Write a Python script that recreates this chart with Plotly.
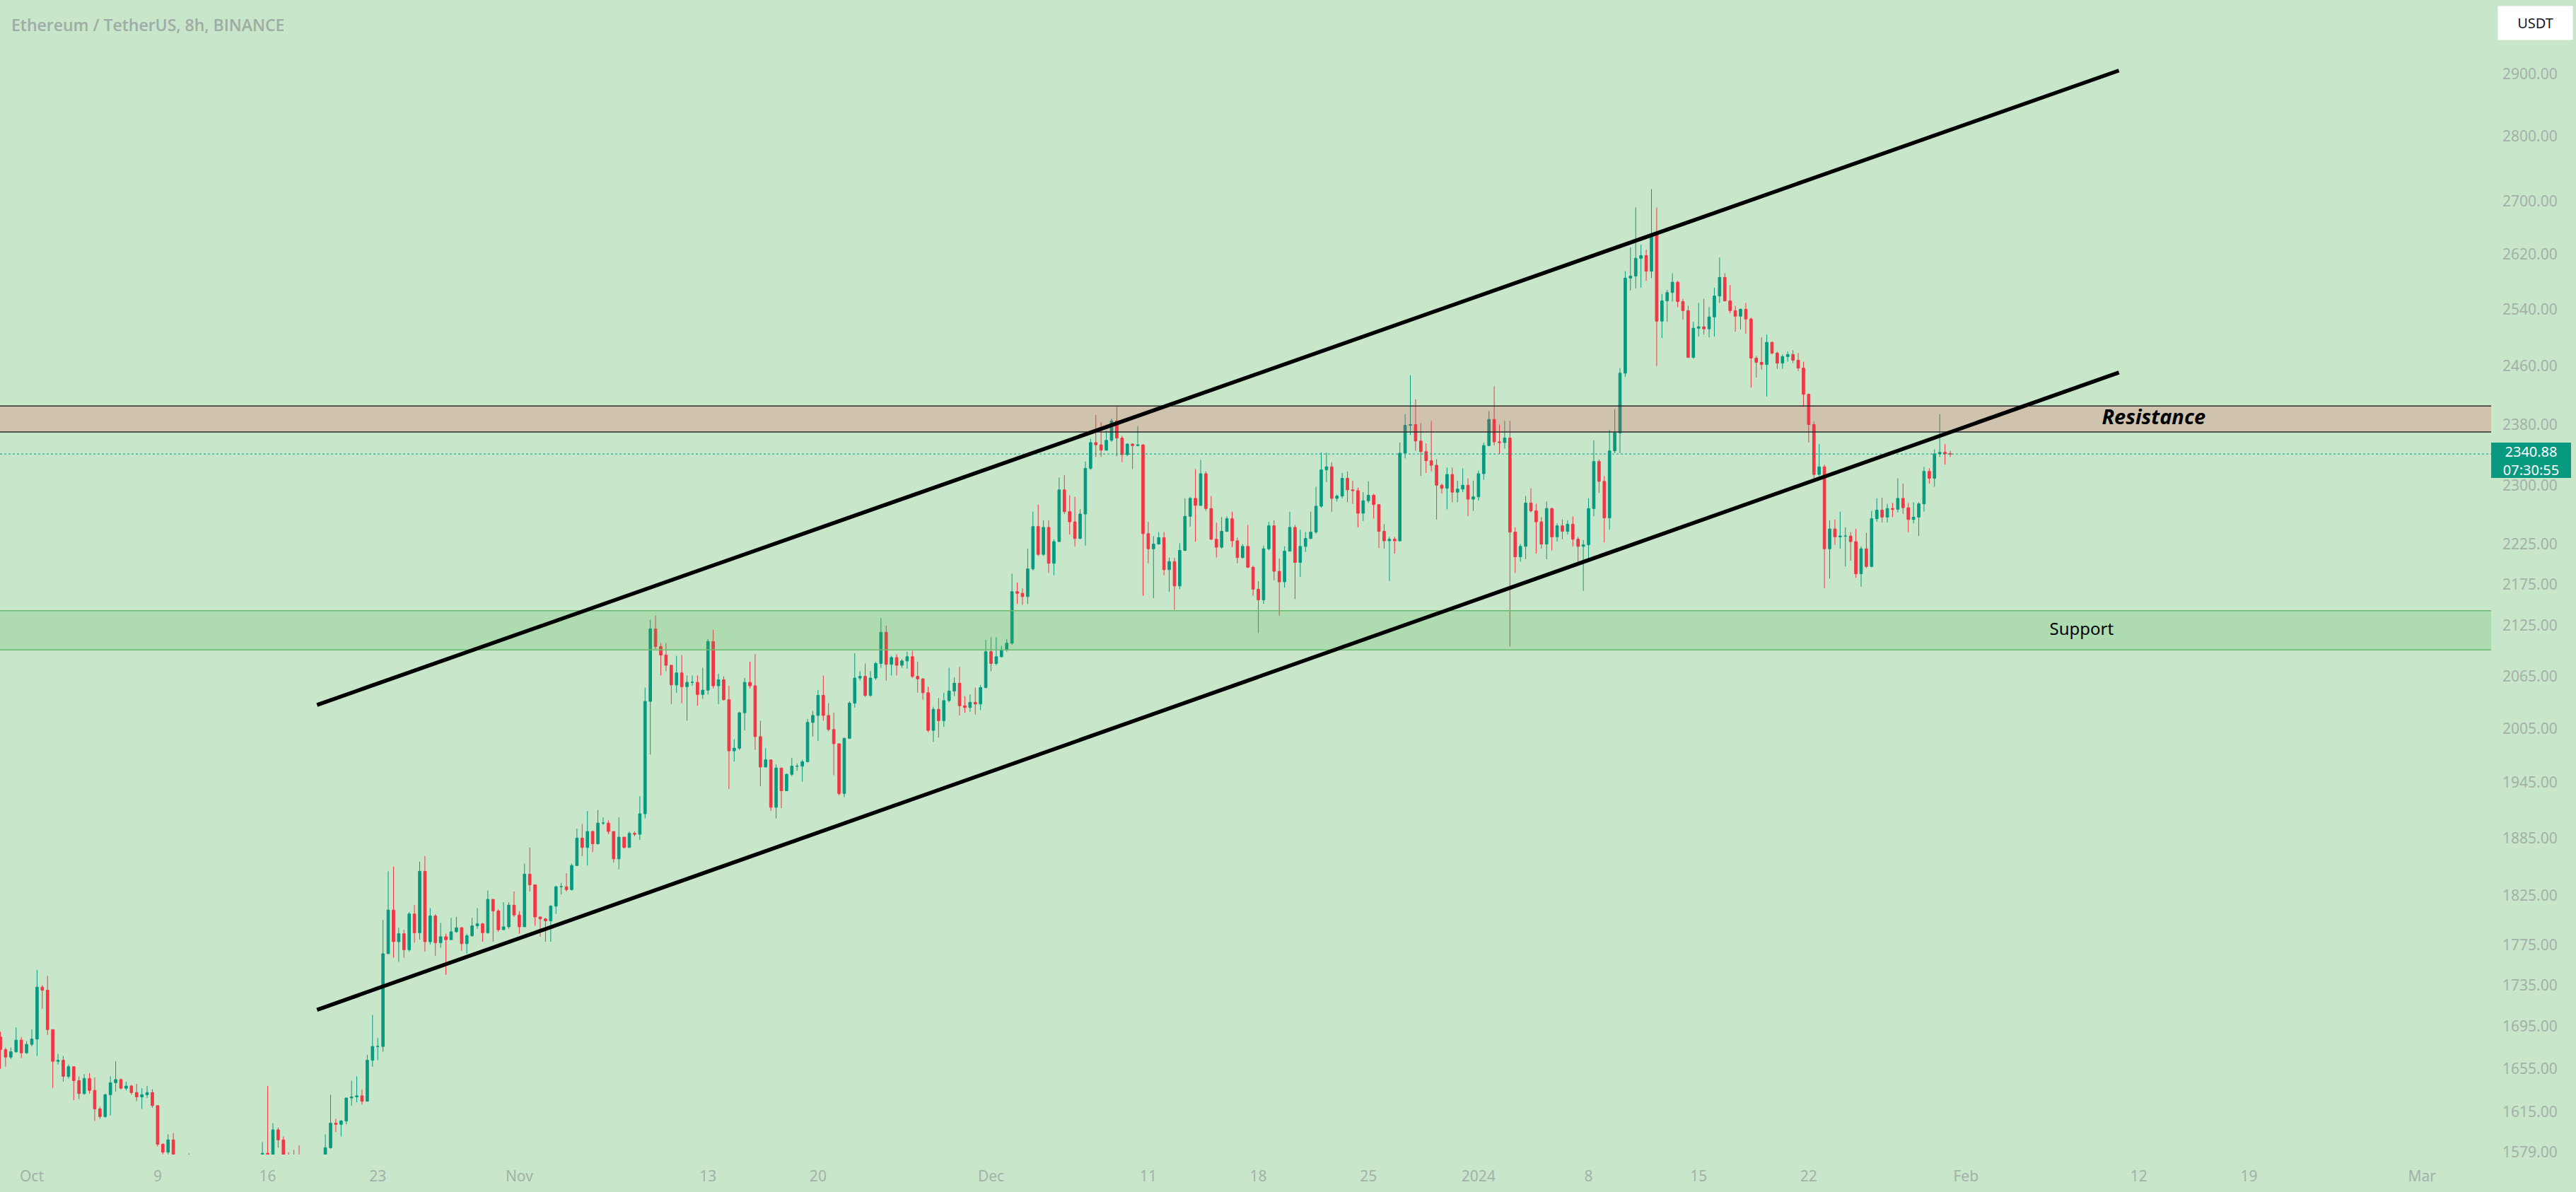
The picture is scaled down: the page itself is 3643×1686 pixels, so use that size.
import math
import pandas as pd
import plotly.graph_objects as go

# ---------------- data (8h candles) ----------------
start_time = "2023-09-29 00:00"
first_open = 1685

close = [
    1673, 1666, 1671, 1682, 1670, 1678, 1683, 1733, 1730, 1692,
    1662, 1663, 1648, 1657, 1644, 1632, 1646, 1635, 1618, 1611,
    1631, 1642, 1645, 1637, 1639, 1633, 1629, 1631, 1633, 1621,
    1586, 1579, 1590, 1575, 1568, 1566, 1565, 1560, 1565, 1555,
    1545, 1540, 1545, 1550, 1548, 1552, 1555, 1553, 1556, 1560,
    1578, 1576, 1599, 1590, 1576, 1572, 1570, 1568, 1565, 1560,
    1562, 1570, 1583, 1605, 1604, 1607, 1628, 1629, 1630, 1625,
    1663, 1676, 1676, 1766, 1810, 1778, 1786, 1770, 1806, 1787,
    1850, 1778, 1804, 1777, 1783, 1780, 1788, 1792, 1776, 1784,
    1794, 1796, 1787, 1821, 1809, 1790, 1793, 1815, 1805, 1793,
    1847, 1836, 1803, 1801, 1799, 1814, 1834, 1834, 1831, 1856,
    1885, 1875, 1892, 1879, 1901, 1901, 1892, 1863, 1886, 1875,
    1890, 1889, 1911, 2036, 2121, 2100, 2090, 2078, 2055, 2069,
    2053, 2058, 2058, 2044, 2049, 2106, 2054, 2061, 2038, 1980,
    1983, 2023, 2058, 2054, 1996, 1962, 1970, 1918, 1961, 1936,
    1954, 1963, 1963, 1968, 2012, 2020, 2043, 2020, 2004, 1988,
    1933, 1994, 2034, 2063, 2065, 2043, 2063, 2080, 2117, 2079,
    2087, 2078, 2083, 2088, 2065, 2062, 2046, 2003, 2027, 2014,
    2037, 2048, 2057, 2031, 2029, 2035, 2033, 2052, 2094, 2080,
    2088, 2096, 2104, 2166, 2164, 2160, 2194, 2247, 2212, 2246,
    2201, 2228, 2294, 2266, 2253, 2232, 2263, 2322, 2356, 2353,
    2346, 2359, 2385, 2362, 2340, 2354, 2352, 2353, 2238, 2219,
    2225, 2233, 2193, 2203, 2173, 2217, 2260, 2283, 2274, 2315,
    2270, 2231, 2221, 2241, 2257, 2229, 2208, 2222, 2196, 2169,
    2156, 2219, 2248, 2191, 2178, 2216, 2246, 2202, 2222, 2232,
    2240, 2273, 2320, 2324, 2283, 2286, 2309, 2294, 2293, 2264,
    2280, 2287, 2275, 2241, 2229, 2231, 2229, 2342, 2379, 2380,
    2358, 2344, 2332, 2326, 2300, 2296, 2314, 2291, 2295, 2300,
    2282, 2285, 2315, 2352, 2387, 2357, 2356, 2362, 2240, 2209,
    2222, 2277, 2267, 2253, 2225, 2270, 2234, 2248, 2241, 2250,
    2231, 2222, 2224, 2270, 2331, 2305, 2258, 2345, 2369, 2450,
    2585, 2588, 2614, 2618, 2595, 2650, 2523, 2552, 2564, 2579,
    2551, 2538, 2472, 2513, 2515, 2512, 2529, 2559, 2586, 2552,
    2538, 2530, 2540, 2526, 2471, 2465, 2462, 2493, 2478, 2464,
    2473, 2476, 2468, 2457, 2421, 2380, 2314, 2324, 2219, 2244,
    2234, 2235, 2235, 2228, 2188, 2219, 2197, 2257, 2268, 2259,
    2270, 2269, 2283, 2271, 2256, 2259, 2276, 2318, 2309, 2341,
    2343, 2341, 2340.88,
]

high = [
    1690, 1675, 1675, 1694, 1685, 1681, 1692, 1750, 1735, 1744,
    1692, 1669, 1667, 1659, 1657, 1648, 1650, 1651, 1647, 1620,
    1632, 1648, 1662, 1646, 1643, 1640, 1641, 1637, 1639, 1636,
    1621, 1587, 1595, 1596, 1576, 1574, 1578, 1570, 1572, 1568,
    1558, 1550, 1555, 1560, 1558, 1560, 1562, 1560, 1562, 1566,
    1588, 1639, 1605, 1601, 1593, 1579, 1581, 1585, 1575, 1572,
    1574, 1576, 1595, 1631, 1609, 1608, 1628, 1644, 1648, 1636,
    1668, 1706, 1684, 1800, 1850, 1855, 1792, 1790, 1808, 1815,
    1860, 1866, 1812, 1806, 1797, 1786, 1802, 1803, 1793, 1786,
    1802, 1812, 1797, 1830, 1821, 1811, 1818, 1818, 1829, 1809,
    1858, 1875, 1836, 1803, 1802, 1815, 1835, 1838, 1848, 1858,
    1895, 1900, 1914, 1893, 1915, 1907, 1904, 1892, 1907, 1886,
    1892, 1892, 1930, 2052, 2132, 2137, 2104, 2104, 2078, 2089,
    2090, 2066, 2066, 2066, 2075, 2109, 2120, 2068, 2065, 2054,
    1993, 2024, 2063, 2082, 2091, 2014, 1983, 1970, 1965, 1961,
    1955, 1972, 1966, 1970, 2016, 2025, 2049, 2066, 2034, 2023,
    1988, 1995, 2036, 2092, 2071, 2080, 2071, 2082, 2134, 2125,
    2089, 2091, 2085, 2094, 2095, 2082, 2063, 2053, 2030, 2040,
    2046, 2075, 2064, 2076, 2042, 2044, 2052, 2055, 2108, 2111,
    2111, 2101, 2109, 2188, 2177, 2170, 2219, 2266, 2275, 2255,
    2255, 2231, 2310, 2313, 2287, 2285, 2269, 2331, 2361, 2393,
    2383, 2372, 2388, 2404, 2365, 2355, 2355, 2378, 2354, 2253,
    2235, 2240, 2240, 2208, 2208, 2226, 2283, 2285, 2321, 2333,
    2318, 2286, 2252, 2259, 2260, 2266, 2233, 2225, 2249, 2198,
    2179, 2223, 2253, 2255, 2207, 2222, 2266, 2249, 2243, 2240,
    2266, 2298, 2343, 2343, 2330, 2288, 2316, 2318, 2306, 2297,
    2291, 2305, 2289, 2274, 2250, 2234, 2234, 2356, 2394, 2447,
    2414, 2382, 2355, 2385, 2334, 2302, 2323, 2323, 2306, 2322,
    2309, 2306, 2319, 2356, 2398, 2432, 2380, 2385, 2385, 2246,
    2225, 2286, 2296, 2276, 2259, 2279, 2271, 2251, 2256, 2255,
    2260, 2234, 2230, 2283, 2359, 2334, 2312, 2373, 2401, 2457,
    2595, 2630, 2690, 2634, 2627, 2718, 2690, 2562, 2568, 2592,
    2581, 2555, 2545, 2522, 2549, 2555, 2543, 2571, 2615, 2592,
    2575, 2545, 2541, 2549, 2528, 2474, 2500, 2504, 2494, 2480,
    2476, 2480, 2482, 2478, 2466, 2422, 2384, 2354, 2327, 2255,
    2256, 2266, 2246, 2240, 2244, 2222, 2239, 2267, 2283, 2284,
    2276, 2277, 2309, 2302, 2277, 2278, 2278, 2324, 2322, 2347,
    2394, 2354, 2345,
]

low = [
    1655, 1657, 1664, 1670, 1665, 1669, 1676, 1667, 1712, 1687,
    1637, 1659, 1643, 1646, 1626, 1627, 1631, 1632, 1607, 1609,
    1610, 1612, 1634, 1636, 1635, 1631, 1625, 1618, 1628, 1619,
    1584, 1577, 1577, 1568, 1560, 1558, 1558, 1550, 1555, 1548,
    1535, 1530, 1535, 1540, 1540, 1545, 1548, 1547, 1550, 1552,
    1556, 1570, 1572, 1583, 1570, 1565, 1562, 1560, 1555, 1553,
    1555, 1558, 1565, 1582, 1597, 1593, 1604, 1621, 1624, 1622,
    1625, 1657, 1663, 1671, 1766, 1762, 1758, 1762, 1768, 1777,
    1780, 1768, 1775, 1764, 1772, 1745, 1780, 1787, 1769, 1766,
    1783, 1791, 1778, 1786, 1778, 1788, 1790, 1791, 1803, 1786,
    1793, 1829, 1794, 1783, 1778, 1778, 1806, 1826, 1829, 1830,
    1856, 1866, 1856, 1870, 1878, 1899, 1889, 1859, 1852, 1874,
    1875, 1887, 1883, 1906, 1976, 2097, 2066, 2071, 2033, 2046,
    2034, 2014, 2054, 2031, 2039, 2044, 2051, 2033, 2037, 1938,
    1968, 1981, 2003, 2051, 1981, 1941, 1962, 1914, 1906, 1917,
    1944, 1952, 1958, 1946, 1967, 1996, 1991, 2014, 2002, 1953,
    1931, 1929, 1994, 2029, 2060, 2041, 2041, 2061, 2075, 2060,
    2066, 2066, 2075, 2074, 2063, 2046, 2038, 2001, 1990, 1995,
    2007, 2035, 2042, 2020, 2023, 2024, 2021, 2026, 2051, 2071,
    2078, 2087, 2094, 2102, 2151, 2150, 2151, 2192, 2210, 2210,
    2189, 2186, 2228, 2263, 2237, 2222, 2231, 2223, 2320, 2337,
    2337, 2345, 2357, 2338, 2330, 2338, 2321, 2351, 2161, 2201,
    2158, 2224, 2186, 2166, 2144, 2169, 2216, 2247, 2228, 2273,
    2267, 2230, 2208, 2219, 2240, 2221, 2201, 2207, 2195, 2161,
    2116, 2151, 2217, 2180, 2137, 2171, 2216, 2157, 2184, 2215,
    2231, 2238, 2271, 2304, 2266, 2279, 2283, 2278, 2276, 2246,
    2254, 2277, 2257, 2220, 2219, 2179, 2213, 2228, 2335, 2366,
    2345, 2312, 2316, 2318, 2256, 2289, 2269, 2278, 2278, 2291,
    2260, 2267, 2280, 2307, 2351, 2352, 2341, 2348, 2100, 2189,
    2203, 2206, 2265, 2213, 2219, 2206, 2217, 2228, 2231, 2237,
    2222, 2203, 2167, 2207, 2260, 2290, 2227, 2243, 2342, 2342,
    2445, 2567, 2570, 2571, 2581, 2585, 2460, 2499, 2522, 2551,
    2543, 2525, 2471, 2470, 2501, 2504, 2500, 2501, 2549, 2551,
    2534, 2508, 2511, 2505, 2430, 2444, 2455, 2418, 2476, 2456,
    2456, 2466, 2464, 2453, 2404, 2356, 2309, 2312, 2170, 2182,
    2224, 2219, 2197, 2204, 2183, 2172, 2195, 2196, 2253, 2252,
    2252, 2259, 2265, 2263, 2240, 2251, 2235, 2266, 2302, 2298,
    2337, 2327, 2337,
]

# channel drawn on the chart (two points each)
line_dates = ["2023-10-19 03:20", "2024-02-10 17:30"]
upper_prices = [2032, 2906]
lower_prices = [1711, 2451]

# zones
resistance_zone = [2370, 2405]
support_zone = [2096, 2143]

# axes
x_range = ["2023-09-28 23:27", "2024-03-05 09:36"]
y_range_prices = [1576.9, 3023.9]
x_tick_dates = ["2023-10-01", "2023-10-09", "2023-10-16", "2023-10-23", "2023-11-01",
                "2023-11-13", "2023-11-20", "2023-12-01", "2023-12-11", "2023-12-18",
                "2023-12-25", "2024-01-01", "2024-01-08", "2024-01-15", "2024-01-22",
                "2024-02-01", "2024-02-12", "2024-02-19", "2024-03-01"]
x_tick_text = ["Oct", "9", "16", "23", "Nov", "13", "20", "Dec", "11", "18",
               "25", "2024", "8", "15", "22", "Feb", "12", "19", "Mar"]
y_tick_vals = [2900, 2800, 2700, 2620, 2540, 2460, 2380, 2300, 2225, 2175, 2125,
               2065, 2005, 1945, 1885, 1825, 1775, 1735, 1695, 1655, 1615, 1579]

resistance_label_pos = ["2024-02-12 22:30", 2387]
support_label_pos = ["2024-02-08 08:30", 2119]
countdown_text = "07:30:55"

# ---------------- figure ----------------
BG = "#c8e6c9"
UP = "#089981"
DOWN = "#f23645"
AXIS_TXT = "#a3b1aa"

times = pd.date_range(start_time, periods=len(close), freq="8h")
opens = [first_open] + close[:-1]

fig = go.Figure()

fig.add_trace(go.Candlestick(
    x=times, open=opens, high=high, low=low, close=close,
    increasing=dict(line=dict(color=UP, width=1), fillcolor=UP),
    decreasing=dict(line=dict(color=DOWN, width=1), fillcolor=DOWN),
    whiskerwidth=0, hoverinfo="skip",
))

def zone(lo, hi, fill, border):
    fig.add_trace(go.Scatter(
        x=[x_range[0], x_range[1], x_range[1], x_range[0], x_range[0]],
        y=[lo, lo, hi, hi, lo], mode="lines", fill="toself",
        fillcolor=fill, line=dict(width=0), hoverinfo="skip"))
    for v in (lo, hi):
        fig.add_trace(go.Scatter(x=x_range, y=[v, v], mode="lines",
                                 line=dict(color=border, width=1.5), hoverinfo="skip"))

zone(support_zone[0], support_zone[1], "rgba(76,175,80,0.2)", "#6dbb70")
zone(resistance_zone[0], resistance_zone[1], "rgba(242,54,69,0.2)", "#2b2b2b")

# last price dotted line
fig.add_trace(go.Scatter(x=x_range, y=[close[-1], close[-1]], mode="lines",
                         line=dict(color=UP, width=1, dash="dot"), hoverinfo="skip"))

# channel lines
for pr in (upper_prices, lower_prices):
    fig.add_trace(go.Scatter(x=line_dates, y=pr, mode="lines",
                             line=dict(color="#000000", width=5.5), hoverinfo="skip"))

# zone labels
fig.add_trace(go.Scatter(x=[resistance_label_pos[0]], y=[resistance_label_pos[1]],
                         mode="text", text=["Resistance"], textposition="middle center",
                         textfont=dict(family="Open Sans", size=29, color="#000000",
                                       style="italic", weight=700), hoverinfo="skip"))
fig.add_trace(go.Scatter(x=[support_label_pos[0]], y=[support_label_pos[1]],
                         mode="text", text=["Support"], textposition="middle center",
                         textfont=dict(family="Noto Sans", size=24, color="#000000"),
                         hoverinfo="skip"))

annotations = [
    dict(text="Ethereum / TetherUS, 8h, BINANCE", xref="paper", yref="paper",
         x=0, y=1, xanchor="left", yanchor="top", xshift=14, yshift=-17,
         showarrow=False, font=dict(family="Open Sans", size=23, color="#9eaba6", weight=600)),
    dict(text="USDT", xref="paper", yref="paper", x=1, y=1, xanchor="left", yanchor="top",
         xshift=9, yshift=-8, width=103, height=45, bgcolor="#ffffff", showarrow=False,
         font=dict(family="Noto Sans", size=20, color="#131722")),
    dict(text=f"{close[-1]:.2f}<br>{countdown_text}", xref="paper", yref="y", x=1,
         y=math.log10(close[-1]), xanchor="left", yanchor="top", yshift=16,
         width=113, height=50, bgcolor=UP, showarrow=False, borderpad=0, borderwidth=0,
         font=dict(family="Noto Sans", size=20, color="#ffffff")),
]

fig.update_layout(
    width=3643, height=1686,
    margin=dict(l=0, r=120, t=0, b=53),
    paper_bgcolor=BG, plot_bgcolor=BG,
    showlegend=False, hovermode=False,
    annotations=annotations,
    xaxis=dict(type="date", range=x_range, rangeslider=dict(visible=False),
               showgrid=False, zeroline=False, showline=False, ticks="",
               tickvals=x_tick_dates, ticktext=x_tick_text, ticklabelstandoff=16,
               tickfont=dict(family="Noto Sans", size=21, color=AXIS_TXT)),
    yaxis=dict(type="log", side="right",
               range=[math.log10(y_range_prices[0]), math.log10(y_range_prices[1])],
               showgrid=False, zeroline=False, showline=False, ticks="",
               tickvals=y_tick_vals, ticktext=[f"{v:.2f}" for v in y_tick_vals],
               ticklabelstandoff=15,
               tickfont=dict(family="Noto Sans", size=21, color=AXIS_TXT)),
)

fig.write_html("out.html")
